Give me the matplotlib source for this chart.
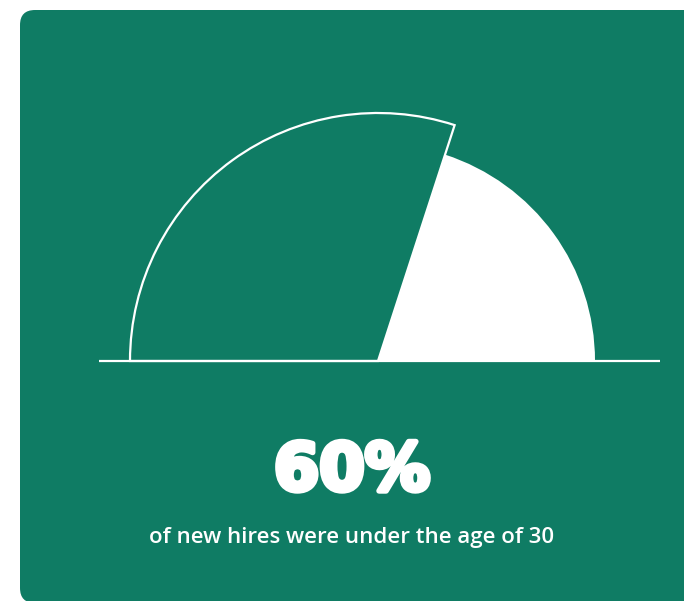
import matplotlib
matplotlib.use('Agg')
import matplotlib.pyplot as plt
import matplotlib.patheffects as pe
from matplotlib.patches import Wedge, FancyBboxPatch

# Share of new hires under 30 (percent) and the remainder
labels = ['Under 30', '30 and over']
shares = [60, 40]
headline = '60%'
caption = 'of new hires were under the age of 30'

GREEN = '#0f7c64'
WHITE = '#ffffff'

W, H = 684, 601
fig = plt.figure(figsize=(W / 100, H / 100), dpi=100)
ax = fig.add_axes([0, 0, 1, 1])
ax.set_xlim(0, W)
ax.set_ylim(0, H)
ax.set_aspect('equal')
ax.axis('off')

# Card background
card = FancyBboxPatch((20, -2), 690, 593,
                      boxstyle='round,pad=0,rounding_size=15',
                      facecolor=GREEN, edgecolor='none')
ax.add_patch(card)

# Half-gauge: angles run from 180 (left) down to 0 (right)
cx, cy = 378, 240
radii = [248, 217]
total = sum(shares)
start = 180.0
for i, share in enumerate(shares):
    sweep = 180.0 * share / total
    if i == 0:
        w = Wedge((cx, cy), radii[i], start - sweep, start,
                  facecolor=GREEN, edgecolor=WHITE, linewidth=1.6)
    else:
        w = Wedge((cx, cy), radii[i], start - sweep, start,
                  facecolor=WHITE, edgecolor='none')
    ax.add_patch(w)
    start -= sweep

# Baseline under the gauge
ax.plot([99, 660], [cy, cy], color=WHITE, linewidth=1.6,
        solid_capstyle='butt')

ax.text(352, 601 - 472, headline, ha='center', va='center',
        fontsize=47, fontweight='heavy', color=WHITE,
        family='DejaVu Sans',
        path_effects=[pe.withStroke(linewidth=4, foreground=WHITE)])
ax.text(352, 601 - 537, caption, ha='center', va='center',
        fontsize=16, fontweight='semibold', color=WHITE,
        family='Open Sans')

fig.savefig('out.png', dpi=100, facecolor='white')
